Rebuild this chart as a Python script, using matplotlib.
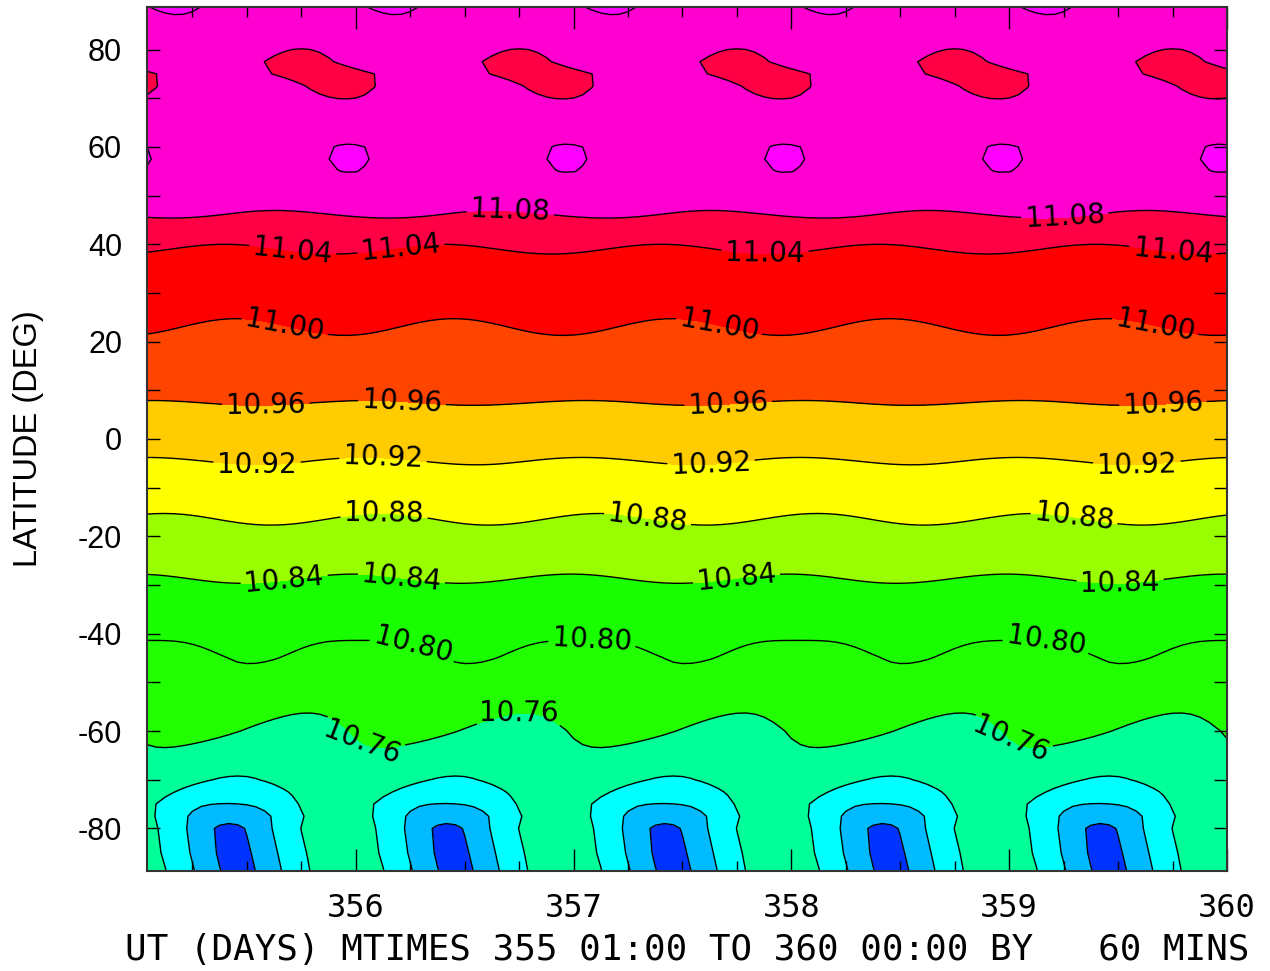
import numpy as np
import matplotlib
matplotlib.use("Agg")
import matplotlib.pyplot as plt
from matplotlib.colors import ListedColormap, BoundaryNorm

plt.rcParams['axes.unicode_minus'] = False

# latitude nodes of the field (deg) and the diurnal structure
lat_nodes = [-88.75, -85, -80, -77.5, -75, -72.5, -70, -65, -60, -55, -50, -45, -40,
             -35, -30, -25, -20, -15, -10, -5, 0, 5, 10, 15, 20, 25, 30, 35, 40,
             45, 50, 55, 57.5, 60, 65, 70, 72.5, 75, 77.5, 80, 85, 88.75]
# daily mean value at each latitude
mean_val = [10.6905, 10.690, 10.6915, 10.696, 10.7073, 10.7212, 10.734, 10.7485,
            10.760, 10.7718, 10.7835, 10.795, 10.8083, 10.8221, 10.8359, 10.8517,
            10.8683, 10.885, 10.9017, 10.9183, 10.9357, 10.953, 10.9675, 10.980,
            10.9925, 11.005, 11.0175, 11.030, 11.0425, 11.076, 11.094, 11.106,
            11.108, 11.107, 11.098, 11.092, 11.0892, 11.0812, 11.0881, 11.093,
            11.105, 11.1115]
# diurnal amplitude and UT (fraction of day) of its maximum
diurnal_amp = [0.0531, 0.053, 0.052, 0.044, 0.033, 0.024, 0.018, 0.0085, 0.009,
               0.009, 0.008, 0.0065, 0.006, 0.004, 0.003, 0.003, 0.004, 0.004,
               0.003, 0.0027, 0.002, 0.0015, 0.0015, 0.003, 0.0043, 0.0043, 0.003,
               0.0025, 0.0025, 0.0025, 0.004, 0.011, 0.012, 0.011, 0.008, 0.0125,
               0.0172, 0.0132, 0.0151, 0.0135, 0.011, 0.0115]
diurnal_peak = [0.96, 0.94, 0.92, 0.92, 0.91, 0.93, 0.95, 0.07, 0.22, 0.30, 0.42,
                0.53, 0.53, 0.50, 0.48, 0.50, 0.60, 0.62, 0.60, 0.55, 0.50, 0.50,
                0.60, 0.90, 0.95, 0.95, 0.90, 0.90, 0.90, 0.16, 0.10, 0.97, 0.97,
                0.97, 0.70, 0.45, 0.43, 0.35, 0.24, 0.25, 0.20, 0.17]
# semidiurnal amplitude and UT of its maximum
semi_amp = [0.0074, 0.0074, 0.0075, 0, 0.0047, 0.0028, 0, 0, 0, 0, 0, 0.0015, 0.0015,
            0, 0, 0, 0, 0, 0, 0, 0, 0, 0, 0, 0, 0, 0, 0, 0, 0, 0, 0.004, 0.005,
            0.005, 0, 0, 0, 0, 0, 0, 0, 0]
semi_peak = [0.71, 0.69, 0.67, 0, 0.41, 0.43, 0, 0, 0, 0, 0, 0.53, 0.53,
             0, 0, 0, 0, 0, 0, 0, 0, 0, 0, 0, 0, 0, 0, 0, 0, 0, 0, 0.97, 0.97,
             0.97, 0, 0, 0, 0, 0, 0, 0, 0]

# UT (DAYS) 355 01:00 to 360 00:00 by 60 mins
ut_days = 355 + np.arange(1, 121) / 24.0

fill_levels = [10.0, 10.64, 10.68, 10.72, 10.76, 10.80, 10.84, 10.88, 10.92, 10.96,
               11.00, 11.04, 11.08, 11.12, 12.0]
fill_colors = ['#0033FF', '#00BBFF', '#00FFFF', '#00FF99', '#22FF00', '#1AFF00',
               '#99FF00', '#FFFF00', '#FFCC00', '#FF4400', '#FF0000', '#FF0044',
               '#FF00D0', '#FF00FF']
plain_levels = [10.64, 10.68, 10.72, 11.12]
label_levels = [10.76, 10.80, 10.84, 10.88, 10.92, 10.96, 11.00, 11.04, 11.08]
label_spots = [(356.708, 45.8), (359.256, 45.2),
               (355.707, 37.4), (356.212, 37.6), (357.879, 38.4), (359.748, 37.0),
               (355.675, 23.2), (357.672, 24.0), (359.670, 23.2),
               (355.588, 6.8), (356.212, 7.2), (357.709, 7.8), (359.706, 7.2),
               (355.547, -5.5), (356.125, -4.1), (357.631, -4.9), (359.587, -5.8),
               (356.130, -15.8), (357.337, -17.1), (359.293, -17.5),
               (355.671, -28.8), (356.212, -27.9), (357.750, -29.2), (359.509, -29.8),
               (356.258, -43.1), (357.085, -41.5), (359.165, -43.6),
               (356.043, -61.6), (356.750, -55.5), (358.995, -62.7)]

lat = np.array(lat_nodes)
frac = ut_days % 1.0
Z = (np.array(mean_val)[:, None]
     + np.array(diurnal_amp)[:, None] * np.cos(2 * np.pi * (frac[None, :] - np.array(diurnal_peak)[:, None]))
     + np.array(semi_amp)[:, None] * np.cos(4 * np.pi * (frac[None, :] - np.array(semi_peak)[:, None])))

fig = plt.figure(figsize=(12.7, 9.71), dpi=100)
ax = fig.add_axes([147 / 1270, 100 / 971, 1080 / 1270, 864 / 971])

cmap = ListedColormap(fill_colors)
norm = BoundaryNorm(fill_levels, cmap.N)
ax.contourf(ut_days, lat, Z, levels=fill_levels, cmap=cmap, norm=norm)
ax.contour(ut_days, lat, Z, levels=plain_levels, colors='black', linewidths=1.0)
cs = ax.contour(ut_days, lat, Z, levels=label_levels, colors='black', linewidths=1.0)
ax.clabel(cs, fmt='%.2f', inline=True, inline_spacing=4,
          manual=label_spots, fontsize=20, colors='black')

ax.set_xlim(ut_days[0], ut_days[-1])
ax.set_ylim(-88.75, 88.75)

ax.set_xticks([356, 357, 358, 359, 360])
ax.set_xticks(np.arange(355.25, 360, 0.25), minor=True)
ax.set_yticks(np.arange(-80, 81, 20))
ax.set_yticks(np.arange(-70, 71, 20), minor=True)

ax.tick_params(axis='x', which='major', direction='in', length=16, width=1.0,
               top=True, bottom=True, pad=16)
ax.tick_params(axis='x', which='minor', direction='in', length=7, width=1.0,
               top=True, bottom=True)
ax.tick_params(axis='y', which='both', direction='in', length=9.5, width=1.0,
               left=True, right=True, pad=18)

for lab in ax.get_xticklabels():
    lab.set_fontfamily('DejaVu Sans Mono')
    lab.set_fontsize(23)
for lab in ax.get_yticklabels():
    lab.set_fontfamily('Liberation Sans')
    lab.set_fontsize(22)

for sp in ax.spines.values():
    sp.set_linewidth(1.5)
    sp.set_color('#333333')

ax.set_xlabel('UT (DAYS) MTIMES 355 01:00 TO 360 00:00 BY   60 MINS',
              fontfamily='DejaVu Sans Mono', fontsize=25.8, va='center')
ax.xaxis.set_label_coords(0.5, -0.0914)
ax.set_ylabel('LATITUDE (DEG)', fontfamily='Liberation Sans', fontsize=23.5, va='center')
ax.yaxis.set_label_coords(-0.110, 0.5)

fig.savefig('out.png', dpi=100)
